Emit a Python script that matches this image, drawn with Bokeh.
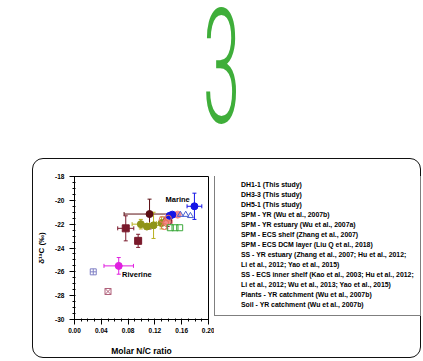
from bokeh.plotting import figure
from bokeh.models import (ColumnDataSource, Whisker, TeeHead, Legend, LegendItem, Label,
                          FixedTicker, PrintfTickFormatter, Div, Spacer)
from bokeh.layouts import column, row
from bokeh.embed import file_html
from bokeh.resources import INLINE

# ---------------- data ----------------
x_ticks = [0.00, 0.04, 0.08, 0.12, 0.16, 0.20]
y_ticks = [-30, -28, -26, -24, -22, -20, -18]

dh1_x = [0.131, 0.136, 0.140, 0.134]
dh1_y = [-21.6, -21.9, -21.5, -22.2]
dh3_x = [0.158, 0.166, 0.173]
dh3_y = [-21.2, -21.2, -21.3]
dh5_x = [0.143, 0.150, 0.157]
dh5_y = [-22.3, -22.3, -22.3]

spm_yr_x = [0.066]
spm_yr_y = [-25.5]
spm_yr_xerr = [0.022]
spm_yr_yerr = [0.7]

spm_yre_x = [0.112]
spm_yre_y = [-21.15]
spm_yre_xerr = [0.038]
spm_yre_yerr = [1.25]

spm_ecs_x = [0.138, 0.154]
spm_ecs_y = [-21.8, -21.2]
spm_ecs_xerr = [0.008, 0.0]
spm_ecs_yerr = [0.6, 0.0]

dcm_x = [0.142, 0.146, 0.179]
dcm_y = [-21.3, -21.2, -20.5]
dcm_xerr = [0.0, 0.0, 0.011]
dcm_yerr = [0.0, 0.0, 1.1]

ss_yr_x = [0.0765, 0.095, 0.139]
ss_yr_y = [-22.35, -23.4, -21.7]
ss_yr_xerr = [0.012, 0.004, 0.006]
ss_yr_yerr = [1.05, 0.55, 0.5]

ss_ecs_x = [0.099, 0.118, 0.130, 0.108]
ss_ecs_y = [-22.0, -22.1, -21.9, -22.2]
ss_ecs_xerr = [0.013, 0.010, 0.008, 0.0]
ss_ecs_yerr = [0.4, 1.1, 0.5, 0.0]

plants_x = [0.028]
plants_y = [-26.0]
soil_x = [0.050]
soil_y = [-27.65]

labels = {
    "dh1": "DH1-1 (This study)",
    "dh3": "DH3-3 (This study)",
    "dh5": "DH5-1 (This study)",
    "spm_yr": "SPM - YR (Wu et al., 2007b)",
    "spm_yre": "SPM - YR estuary (Wu et al., 2007a)",
    "spm_ecs": "SPM - ECS shelf (Zhang et al., 2007)",
    "dcm": "SPM - ECS DCM layer (Liu Q et al., 2018)",
    "ss_yr": "SS - YR estuary (Zhang et al., 2007; Hu et al., 2012;",
    "ss_yr2": "Li et al., 2012; Yao et al., 2015)",
    "ss_ecs": "SS - ECS inner shelf (Kao et al., 2003; Hu et al., 2012;",
    "ss_ecs2": "Li et al., 2012; Wu et al., 2013; Yao et al., 2015)",
    "plants": "Plants - YR catchment (Wu et al., 2007b)",
    "soil": "Soil - YR catchment (Wu et al., 2007b)",
}

FONT = "Liberation Sans"

C_DH1 = "#e8735a"
C_DH3 = "#4a5fd0"
C_DH5 = "#3aa83a"
C_SPMYR = "#e01ee0"
C_SPMYRE = "#5c0f14"
C_SPMECS = "#f4898a"
C_DCM = "#1414e6"
C_SSYR = "#7a1a2c"
C_SSECS = "#8f9419"
C_PLANTS = "#7f7fc4"
C_SOIL = "#b0607a"

# ---------------- big "3" ----------------
three_html = (
    '<div style="position:relative;width:423px;height:158px;overflow:visible;">'
    '<span style="position:absolute;left:203px;top:10px;font-family:Roboto;font-weight:300;'
    'font-size:159px;line-height:116px;color:#3fae3a;transform:scaleX(0.42);'
    'transform-origin:0 0;white-space:nowrap;">3</span></div>'
)
div = Div(text=three_html, width=421, height=158, margin=0)

# ---------------- scatter figure ----------------
p = figure(width=182, height=200, x_range=(0, 0.2), y_range=(-30, -18),
           output_backend="svg", toolbar_location=None,
           min_border_left=42, min_border_right=6, min_border_top=18, min_border_bottom=36)
p.xgrid.visible = False
p.ygrid.visible = False
p.outline_line_color = "black"
p.outline_line_width = 1
p.background_fill_color = "white"
p.border_fill_alpha = 0

p.xaxis.ticker = FixedTicker(ticks=x_ticks,
                             minor_ticks=[i / 100 for i in range(0, 21)])
p.yaxis.ticker = FixedTicker(ticks=y_ticks,
                             minor_ticks=[-30 + i * 0.5 for i in range(0, 25)])
p.xaxis.formatter = PrintfTickFormatter(format="%.2f")
p.yaxis.formatter = PrintfTickFormatter(format="%d")
for ax in (p.xaxis, p.yaxis):
    ax.axis_line_color = "black"
    ax.major_tick_line_color = "black"
    ax.minor_tick_line_color = "black"
    ax.major_tick_out = 5
    ax.major_tick_in = 0
    ax.minor_tick_out = 2
    ax.minor_tick_in = 1
    ax.major_label_text_font = FONT
    ax.major_label_text_font_style = "bold"
    ax.major_label_text_font_size = "6.5px"
    ax.major_label_text_color = "black"
    ax.axis_label_text_font = FONT
    ax.axis_label_text_font_style = "bold"
    ax.axis_label_text_color = "black"
p.xaxis.axis_label = "Molar N/C ratio"
p.xaxis.axis_label_text_font_size = "8.5px"
p.xaxis.major_label_standoff = 3
p.xaxis.axis_label_standoff = 10
p.yaxis.axis_label = "δ¹³C (‰)"
p.yaxis.axis_label_text_font_size = "8px"
p.yaxis.major_label_standoff = 5
p.yaxis.axis_label_standoff = 6


def errbars(xs, ys, xerr, yerr, color):
    vx = [(x, y, e) for x, y, e in zip(xs, ys, yerr) if e > 0]
    if vx:
        src = ColumnDataSource(dict(b=[a[0] for a in vx],
                                    lo=[a[1] - a[2] for a in vx],
                                    hi=[a[1] + a[2] for a in vx]))
        p.add_layout(Whisker(source=src, base="b", lower="lo", upper="hi", dimension="height",
                             line_color=color, line_width=1,
                             lower_head=TeeHead(size=4, line_color=color, line_width=1),
                             upper_head=TeeHead(size=4, line_color=color, line_width=1)))
    hx = [(x, y, e) for x, y, e in zip(xs, ys, xerr) if e > 0]
    if hx:
        src = ColumnDataSource(dict(b=[a[1] for a in hx],
                                    lo=[a[0] - a[2] for a in hx],
                                    hi=[a[0] + a[2] for a in hx]))
        p.add_layout(Whisker(source=src, base="b", lower="lo", upper="hi", dimension="width",
                             line_color=color, line_width=1,
                             lower_head=TeeHead(size=4, line_color=color, line_width=1),
                             upper_head=TeeHead(size=4, line_color=color, line_width=1)))


errbars(spm_yr_x, spm_yr_y, spm_yr_xerr, spm_yr_yerr, C_SPMYR)
errbars(spm_yre_x, spm_yre_y, spm_yre_xerr, spm_yre_yerr, C_SPMYRE)
errbars(ss_yr_x, ss_yr_y, ss_yr_xerr, ss_yr_yerr, C_SSYR)
errbars(ss_ecs_x, ss_ecs_y, ss_ecs_xerr, ss_ecs_yerr, "#b8b020")
errbars(spm_ecs_x, spm_ecs_y, spm_ecs_xerr, spm_ecs_yerr, C_SPMECS)
errbars(dcm_x, dcm_y, dcm_xerr, dcm_yerr, C_DCM)

STYLES = {
    "dh1": dict(marker="circle", size=6, fill_color=None, line_color=C_DH1, line_width=1),
    "dh3": dict(marker="triangle", size=6, fill_color=None, line_color=C_DH3, line_width=1),
    "dh5": dict(marker="square", size=6, fill_color=None, line_color=C_DH5, line_width=1),
    "spm_yr": dict(marker="circle", size=7, fill_color=C_SPMYR, line_color=C_SPMYR),
    "spm_yre": dict(marker="circle", size=7, fill_color=C_SPMYRE, line_color=C_SPMYRE),
    "spm_ecs": dict(marker="circle", size=7, fill_color=C_SPMECS, line_color=C_SPMECS),
    "dcm": dict(marker="circle", size=7, fill_color=C_DCM, line_color=C_DCM),
    "ss_yr": dict(marker="square", size=7, fill_color=C_SSYR, line_color=C_SSYR),
    "ss_ecs": dict(marker="circle", size=7, fill_color=C_SSECS, line_color=C_SSECS),
    "plants": dict(marker="square_cross", size=6, fill_color="white", line_color=C_PLANTS,
                   line_width=1),
    "soil": dict(marker="square_x", size=6, fill_color="white", line_color=C_SOIL,
                 line_width=1),
}

p.scatter(plants_x, plants_y, **STYLES["plants"])
p.scatter(soil_x, soil_y, **STYLES["soil"])
p.scatter(spm_yr_x, spm_yr_y, **STYLES["spm_yr"])
p.scatter(spm_yre_x, spm_yre_y, **STYLES["spm_yre"])
p.scatter(ss_yr_x, ss_yr_y, **STYLES["ss_yr"])
p.scatter(ss_ecs_x, ss_ecs_y, **STYLES["ss_ecs"])
p.scatter(spm_ecs_x, spm_ecs_y, **STYLES["spm_ecs"])
p.scatter(dcm_x, dcm_y, **STYLES["dcm"])
p.scatter(dh1_x, dh1_y, **STYLES["dh1"])
p.scatter(dh3_x, dh3_y, **STYLES["dh3"])
p.scatter(dh5_x, dh5_y, **STYLES["dh5"])

p.add_layout(Label(x=0.136, y=-19.9, text="Marine", text_font=FONT, text_font_style="bold",
                   text_font_size="7.5px", text_baseline="middle", text_color="black"))
p.add_layout(Label(x=0.071, y=-26.25, text="Riverine", text_font=FONT, text_font_style="bold",
                   text_font_size="7.5px", text_baseline="middle", text_color="black"))

# ---------------- legend figure ----------------
q = figure(width=207, height=200, x_range=(0, 1), y_range=(0, 1),
           output_backend="svg", toolbar_location=None,
           x_axis_location=None, y_axis_location=None,
           min_border_left=0, min_border_right=0, min_border_top=18, min_border_bottom=36)
q.xgrid.visible = False
q.ygrid.visible = False
q.outline_line_color = None
q.background_fill_alpha = 0
q.border_fill_alpha = 0

order = ["dh1", "dh3", "dh5", "spm_yr", "spm_yre", "spm_ecs", "dcm",
         "ss_yr", "ss_yr2", "ss_ecs", "ss_ecs2", "plants", "soil"]
items = []
for key in order:
    src = ColumnDataSource(dict(x=[], y=[]))
    if key in STYLES:
        r = q.scatter("x", "y", source=src, **STYLES[key])
    else:
        r = q.scatter("x", "y", source=src, size=1, fill_alpha=0, line_alpha=0)
    items.append(LegendItem(label=labels[key], renderers=[r]))

legend = Legend(items=items, location=(0, 3), orientation="vertical",
                label_text_font=FONT, label_text_font_style="bold",
                label_text_font_size="6.9px", label_text_color="black",
                label_height=10, glyph_height=10, glyph_width=14, label_standoff=6,
                padding=6, spacing=0, margin=0,
                border_line_color="black", border_line_width=1,
                background_fill_color="white", background_fill_alpha=1)
q.add_layout(legend)

card = row(p, q, spacing=0,
           styles={"outline": "1.5px solid #111", "outline-offset": "-1.5px",
                   "border-radius": "11px"})
layout = column(div, row(Spacer(width=32), card, spacing=0), spacing=0)
open("out.html", "w").write(file_html(layout, INLINE))
